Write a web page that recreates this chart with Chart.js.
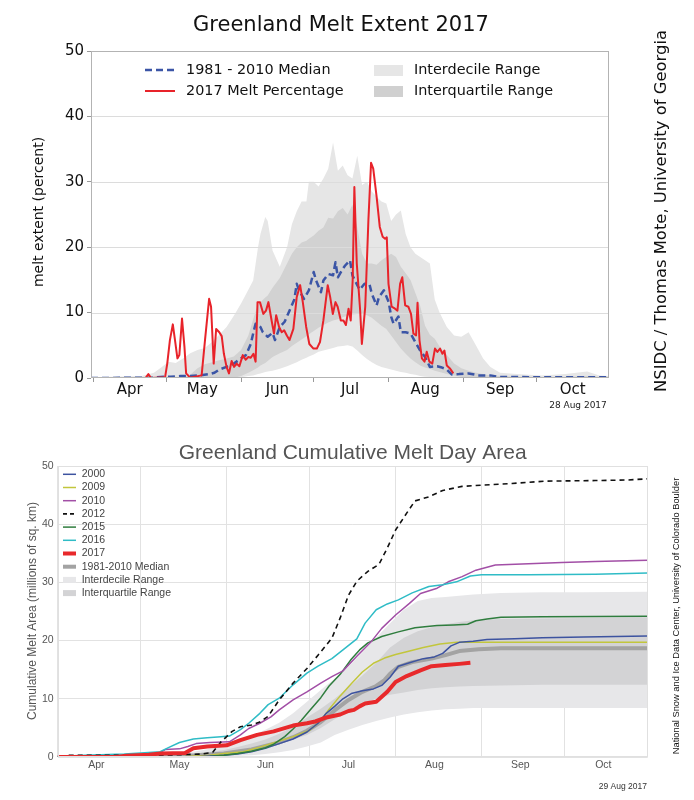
<!DOCTYPE html>
<html><head><meta charset="utf-8">
<script src="https://cdn.jsdelivr.net/npm/chart.js@4.4.0/dist/chart.umd.min.js"></script>
<style>
html,body{margin:0;padding:0;background:#fff;}
#wrap{position:relative;width:694px;height:800px;overflow:hidden;}
#c1{position:absolute;left:0;top:0;}
#c2{position:absolute;left:0;top:420px;}
</style></head><body>
<div id="wrap"><canvas id="c1" width="694" height="420"></canvas><canvas id="c2" width="694" height="380"></canvas></div>
<script>
// ---------- common: days counted from 1 April ----------
const months = ['Apr','May','Jun','Jul','Aug','Sep','Oct'];
const monthStartDays = [0,30,61,91,122,153,183];

// ---------- TOP: daily melt extent (percent) ----------
const bandDays = [-1,20,25,28,31,34,37,40,43,46,49,52,55,58,61,64,66,68,69,71,72,74,77,80,82,84,86,88,89,91,93,95,97,99,101,103,105,107,109,111,113,115,117,119,121,123,125,127,129,131,133,135,137,139,141,143,146,149,152,155,158,161,164,168,175,185,195,204,209,213];
const decileHigh = [0.1,0.3,0.8,1.6,2.5,2.3,3.0,3.8,4.3,4.6,
 5.5,6.6,7.8,9.5,11.4,13.5,14.9,20,22,24.6,
 24,19.5,17,20,23.5,25.5,27,27,30,30,
 29.3,30.5,32,36,31.7,32.5,31,30.5,34,29.5,
 30,28.5,27.7,27,26.7,24,25,25.6,22,20,
 19,18.5,18,17.5,12,10,7.8,6.5,6.3,7.0,
 5,3,1.7,0.8,0.6,0.4,0.6,1.0,0.4,0.3];
const decileLow = [0,0,0,0,0,0,0,0,0,0,
 0,0,0,0,0.1,0.3,0.4,0.6,0.7,0.9,
 1.0,1.1,1.4,1.8,2.1,2.4,2.8,3.1,3.3,3.6,
 4.0,4.2,4.4,4.6,4.8,4.9,5.0,4.8,4.2,3.5,
 2.9,2.4,2.0,1.7,1.5,1.3,1.1,0.9,0.8,0.6,
 0.5,0.3,0.2,0.15,0,0,0,0,0,0,
 0,0,0,0,0,0,0,0,0,0];
const quartileHigh = [0,0,0,0,0,0,0,0.5,1.5,2.1,
 2.4,2.7,3.0,3.3,4.3,6.5,9,11.2,11.6,12.3,
 12.6,13.8,15.3,17.5,19,20,20.7,21,21.3,21.8,
 22.5,23,24.5,24.4,25.5,26,25,26.5,23,19,
 17.5,17.5,17.3,18,18.5,19,18.5,17,16,15,
 13,11,8,6.6,6,4.8,3.5,2.2,1.5,1.1,
 0.8,0.6,0.4,0.3,0.2,0.15,0.15,0.3,0.15,0.1];
const quartileLow = [0,0,0,0,0,0,0,0,0,0,
 0,0,0,0,0.3,0.8,1.2,1.6,1.9,2.3,
 2.6,3.2,3.8,4.3,4.9,5.4,5.9,6.4,6.7,7.2,
 7.7,8.1,8.5,8.8,9.0,9.3,9.5,9.7,9.8,9.9,
 9.6,9.2,8.6,8.0,7.5,6.5,5.5,4.5,3.7,3.0,
 2.4,1.9,1.6,1.4,1.1,0.9,0.6,0.4,0.2,0.1,
 0,0,0,0,0,0,0,0,0,0];
const medDays = [-1,25,29,32,36,40,44,48,50,52,55,58,61,63,65,66,67,69,70,72,74,75,77,79,81,83,84,85,87,89,91,92,94,95,97,99,100,101,103,104,106,107,109,110,112,114,115,117,118,120,122,123,124,126,127,129,131,133,135,137,139,142,144,146,148,151,155,159,164,168,175,190,212];
const medVals = [0,0.05,0.2,0.2,0.3,0.3,0.4,0.6,0.8,1.3,1.7,2.2,3.0,3.5,5.2,6.8,8.3,7.8,7.0,6.3,6.9,5.8,7.8,8.6,10.3,12.0,14.4,13.4,12.1,13.4,16.2,14.9,13.1,14.9,15.9,15.7,17.7,15.4,16.7,17.2,18.0,15.7,14.2,13.5,14.4,14.4,12.9,11.1,12.4,13.4,11.6,9.4,8.3,9.4,7.0,7.0,6.8,5.5,4.2,3.2,1.7,1.8,1.6,1.3,0.55,0.6,0.7,0.4,0.4,0.15,0.15,0.1,0.1];
const melt2017Days = [-1,21.5,22.7,23.8,29.6,30.5,31.6,32.8,33.7,34.7,35.5,36.6,37.6,38.3,40,44.7,46.1,47.8,48.6,49.7,50.7,52,53,53.9,55,56,57.1,58.1,59.2,60.3,61.7,62.9,64,65,66.1,67,67.8,68.8,70.2,71.3,72.3,73.7,74.6,75.5,76.7,77.8,78.8,79.9,81,82.6,84,85.4,86.5,87.9,89.2,90.9,92.3,93.6,95,96.8,97.8,98.9,100,100.9,102.2,103.3,104.3,105.4,106.3,107.1,107.8,108.8,110.2,110.9,112.3,113.6,114.7,115.6,117,118.3,119.5,120.5,121.2,121.9,123.2,124.6,125.6,126.7,127.6,128.8,130.1,131.2,132.2,133.3,133.9,134.7,135.7,136.8,137.7,138.8,140,141.1,142.1,143.2,144.2,145,146,147.4,148.7];
const melt2017Vals = [0,0,0.6,0,0.1,2.2,5.8,8.2,5.8,3.0,3.5,9.1,4.8,0.7,0.05,0.4,5.8,12.1,10.9,2.2,7.5,7.0,6.4,3.7,1.7,0.7,2.6,1.7,2.2,1.8,3.5,2.8,3.2,3.1,3.7,2.5,11.6,11.6,9.8,10.3,11.6,8.6,6.8,9.6,7.8,7.0,7.3,6.5,5.8,7.5,12.4,14.2,11.6,7.8,5.2,4.5,4.5,5.5,8.8,14.2,12.4,9.8,11.6,10.9,8.8,8.8,8.1,10.6,8.8,14.9,29.2,17.5,10.3,5.2,10.9,24.1,32.9,32.0,27.7,23.1,21.6,21.3,21.5,14.4,10.9,10.6,10.3,14.4,15.4,11.1,10.9,9.8,6.8,6.5,11.5,5.8,3.0,2.5,4.0,2.5,2.2,4.5,4.0,4.5,3.7,4.2,1.9,1.4,0.7];
const topYTicks = [0,10,20,30,40,50];

// ---------- BOTTOM: cumulative melt day area (millions of sq. km) ----------
const cumBandDays = [0,30,40,50,55,60,65,70,75,80,85,90,95,100,105,110,115,120,125,130,135,140,145,150,160,175,190,213];
const cumDecileHigh = [0.1,0.3,0.5,1.0,1.4,1.9,2.8,3.7,4.7,5.9,7.5,9.5,11.5,13.5,15.5,18.0,20.5,23.0,25.3,26.8,27.3,27.5,27.7,27.9,28.2,28.3,28.3,28.4];
const cumDecileLow = [0,0,0,0,0.05,0.1,0.2,0.3,0.5,0.8,1.2,1.8,2.5,3.8,4.7,5.5,6.2,6.8,7.3,7.7,8.0,8.2,8.3,8.4,8.4,8.4,8.4,8.4];
const cumQuartHigh = [0,0.1,0.3,0.6,0.9,1.2,1.7,2.3,3.0,4.0,5.2,6.8,8.3,10.0,12.0,14.0,16.2,18.8,20.5,21.6,22.3,22.8,23.2,23.5,23.7,23.8,23.9,24.0];
const cumQuartLow = [0,0,0.1,0.2,0.3,0.5,0.8,1.2,1.7,2.3,3.0,3.8,5.0,6.5,8.0,9.2,10.0,10.7,11.1,11.5,11.8,12.0,12.1,12.2,12.3,12.4,12.4,12.4];
const cumMedDays = [0,30,40,50,60,70,80,85,90,95,100,105,110,115,118,120,123,128,135,140,145,152,160,213];
const cumMedVals = [0,0.05,0.15,0.3,0.6,1.3,2.5,3.4,4.5,6.0,8.0,9.8,11.2,12.2,13.2,14.3,15.5,16.3,16.9,17.5,18.2,18.5,18.7,18.7];
const y2000Days = [0,50,60,65,70,75,80,85,90,94,97,100,103,106,110,114,117,120,123,127,132,136,139,142,145,150,155,165,175,190,213];
const y2000Vals = [0,0.05,0.3,0.5,0.9,1.5,2.3,3.1,4.3,5.8,7.5,8.7,10.0,10.9,11.4,11.7,12.3,13.7,15.6,16.2,16.9,17.2,17.8,19.1,19.7,19.9,20.2,20.3,20.5,20.6,20.8];
const y2009Days = [0,45,55,60,67,73,79,85,91,95,98,102,106,110,114,118,122,126,132,138,144,213];
const y2009Vals = [0,0.05,0.3,0.6,0.9,1.7,2.6,3.5,4.6,6.3,8.2,10.5,12.6,14.6,16.1,17.0,17.6,18.1,18.8,19.4,19.7,19.7];
const y2010Days = [0,20,30,36,39,44,47,50,55,62,66,69,73,77,80,85,90,95,99,103,108,113,117,122,127,131,137,141,146,151,158,170,182,194,213];
const y2010Vals = [0,0.2,0.3,0.5,1.3,1.4,1.8,2.3,2.5,2.6,3.8,4.9,5.8,6.9,8.1,9.8,11.2,12.7,13.8,14.8,17.3,19.7,22.1,24.4,26.4,28.1,29.0,30.1,31.0,32.1,33.0,33.2,33.4,33.6,33.8];
const y2012Days = [4,20,35,45,52,56,59,63,66,70,73,76,80,85,90,94,99,102,105,108,112,116,119,122,126,129,134,139,146,153,164,176,194,206,213];
const y2012Vals = [0.3,0.3,0.3,0.4,0.5,0.8,2.6,4.4,5.2,5.5,6.0,7.0,9.8,12.7,15.2,17.5,20.4,23.9,27.8,30.2,31.9,33.1,35.9,39,41.9,44.0,44.7,45.8,46.5,46.7,47.0,47.4,47.5,47.6,47.8];
const y2015Days = [0,50,55,60,65,70,75,78,82,85,88,91,95,98,102,106,109,112,117,123,129,137,143,148,151,155,160,175,213];
const y2015Vals = [0,0.05,0.1,0.3,0.6,1.0,1.6,2.2,3.5,4.8,6.3,8.0,10.2,12.2,14.2,16.8,18.4,19.6,20.7,21.5,22.2,22.6,22.7,22.8,23.4,23.7,24.0,24.1,24.2];
const y2016Days = [0,10,24,30,37,40,44,49,54,59,62,66,69,73,76,80,85,90,94,99,103,108,111,115,119,123,128,134,139,144,149,153,170,194,213];
const y2016Vals = [0.1,0.3,0.5,0.7,0.9,1.6,2.5,3.1,3.3,3.5,3.6,4.7,5.8,7.5,9.0,10.1,12.4,14.4,15.6,16.9,18.4,20.3,23.0,25.3,26.3,27.0,28.2,29.3,29.6,30.1,31.1,31.3,31.3,31.4,31.6];
const y2017Days = [0,21,25,33,37,46,49,54,61,66,72,78,85,90,93,97,102,105,107,109,111,115,119,122,126,131,135,140,145,149];
const y2017Vals = [0,0,0.2,0.4,0.6,0.7,1.5,1.8,2.0,2.9,3.8,4.4,5.4,5.8,6.1,6.8,7.3,7.9,8.1,8.7,9.2,9.5,11.2,12.9,13.9,14.9,15.6,15.8,16.0,16.2];

// ---------- helpers ----------
const pts = (xs, ys) => xs.map((x, i) => ({x: x, y: ys[i]}));
function monthAxisTicks(offset){
  return function(scale){
    const vals = monthStartDays.concat(monthStartDays.map(d => d + offset)).sort((a,b)=>a-b);
    scale.ticks = vals.map(v => ({value: v}));
  };
}
function monthLabel(offset){
  return function(value){ const i = monthStartDays.indexOf(value - offset); return i >= 0 ? months[i] : ''; };
}
const isStart = ctx => !!(ctx.tick && monthStartDays.indexOf(ctx.tick.value) >= 0);
const CLEAR = 'rgba(0,0,0,0)';
function txt(c, s, x, y, font, color, align, rot){
  c.save(); c.translate(x, y); if (rot) c.rotate(rot);
  c.font = font; c.fillStyle = color; c.textAlign = align || 'center'; c.textBaseline = 'middle';
  c.fillText(s, 0, 0); c.restore();
}
function frame(c, a, color){
  c.save(); c.strokeStyle = color; c.lineWidth = 1;
  const l = Math.round(a.left) + 0.5, t = Math.round(a.top) + 0.5, r = Math.round(a.right) - 0.5, b = Math.round(a.bottom) - 0.5;
  c.strokeRect(l, t, r - l, b - t); c.restore();
}
const band = (label, data, fill, bg) => ({label, data, fill, backgroundColor: bg || CLEAR, borderColor: CLEAR, borderWidth: 0, pointRadius: 0});
const line = (label, data, color, width, dash) => ({label, data, borderColor: color, borderWidth: width, borderDash: dash || [], pointRadius: 0, fill: false, borderJoinStyle: 'round'});

// ---------- TOP chart ----------
const DJ = 'DejaVu Sans';
const topDecor = {
  id: 'topDecor',
  // horizontal grid lines sit above the shaded ranges but below the lines
  beforeDatasetDraw(chart, args){
    if (args.index !== 1) return;
    const c = chart.ctx, a = chart.chartArea, y = chart.scales.y;
    c.save(); c.strokeStyle = '#dcdcdc'; c.lineWidth = 1;
    topYTicks.filter(v => v > 0 && v < 50).forEach(v => {
      const py = Math.round(y.getPixelForValue(v)) + 0.5;
      c.beginPath(); c.moveTo(a.left, py); c.lineTo(a.right, py); c.stroke();
    });
    c.restore();
  },
  afterDraw(chart){
    const c = chart.ctx, a = chart.chartArea;
    frame(c, a, '#b3b3b3');
    txt(c, 'Greenland Melt Extent 2017', 341, 26, '21px "DejaVu Sans"', '#111');
    txt(c, 'melt extent (percent)', 39, 212, '14px "DejaVu Sans"', '#111', 'center', -Math.PI/2);
    txt(c, 'NSIDC / Thomas Mote, University of Georgia', 662, 211, '16.4px "DejaVu Sans"', '#111', 'center', -Math.PI/2);
    txt(c, '28 Aug 2017', 578, 406, '9px "DejaVu Sans"', '#222');
    // legend
    c.save();
    c.lineWidth = 2.5; c.strokeStyle = '#3b55a6'; c.setLineDash([7,4]);
    c.beginPath(); c.moveTo(145, 70); c.lineTo(175, 70); c.stroke();
    c.setLineDash([]); c.lineWidth = 2; c.strokeStyle = '#e8232a';
    c.beginPath(); c.moveTo(145, 91); c.lineTo(175, 91); c.stroke();
    c.fillStyle = '#e6e6e6'; c.fillRect(374, 65, 29, 11);
    c.fillStyle = '#d0d0d0'; c.fillRect(374, 86, 29, 11);
    c.restore();
    txt(c, '1981 - 2010 Median', 186, 70, '14.4px "DejaVu Sans"', '#111', 'left');
    txt(c, '2017 Melt Percentage', 186, 91, '14.4px "DejaVu Sans"', '#111', 'left');
    txt(c, 'Interdecile Range', 414, 70, '14.4px "DejaVu Sans"', '#111', 'left');
    txt(c, 'Interquartile Range', 414, 91, '14.4px "DejaVu Sans"', '#111', 'left');
  }
};
new Chart(document.getElementById('c1'), {
  type: 'line',
  data: { datasets: [
    line('2017 Melt Percentage', pts(melt2017Days, melt2017Vals), '#e8232a', 2),
    line('1981 - 2010 Median', pts(medDays, medVals), '#3b55a6', 2.5, [7,4]),
    band('Interquartile Range', pts(bandDays, quartileHigh), '+1', '#d2d2d2'),
    band('Interquartile low', pts(bandDays, quartileLow), false),
    band('Interdecile Range', pts(bandDays, decileHigh), '+1', '#e6e6e6'),
    band('Interdecile low', pts(bandDays, decileLow), false)
  ]},
  options: {
    responsive: false, animation: false, devicePixelRatio: 1,
    layout: {padding: {left: 0, top: 51, right: 85, bottom: 0}},
    elements: {line: {tension: 0}},
    plugins: {legend: {display: false}, tooltip: {enabled: false}, title: {display: false}},
    scales: {
      x: {type: 'linear', min: -1, max: 213,
        afterBuildTicks: monthAxisTicks(15), afterFit: s => { s.height = 42; },
        ticks: {autoSkip: false, maxRotation: 0, callback: monthLabel(15), font: {family: DJ, size: 15}, color: '#111', padding: -1},
        grid: {drawOnChartArea: false, drawTicks: true, tickLength: 4, tickColor: ctx => isStart(ctx) ? '#999' : CLEAR},
        border: {display: false}},
      y: {min: 0, max: 50, afterFit: s => { s.width = 91; },
        afterBuildTicks: s => { s.ticks = topYTicks.map(v => ({value: v})); },
        ticks: {font: {family: DJ, size: 15}, color: '#111', padding: 3},
        grid: {color: CLEAR, tickLength: 4, tickColor: '#999'},
        border: {display: false}}
    }
  },
  plugins: [topDecor]
});

// ---------- BOTTOM chart ----------
const LS = 'Liberation Sans';
const legendItems = [
  ['2000', 'line', '#3d53a0', 1.5], ['2009', 'line', '#c2c63c', 1.5], ['2010', 'line', '#a24fa6', 1.5],
  ['2012', 'dash', '#111111', 1.6], ['2015', 'line', '#2f7d3e', 1.5], ['2016', 'line', '#2fbcc6', 1.5],
  ['2017', 'line', '#e8292b', 4], ['1981-2010 Median', 'line', '#a3a3a3', 4],
  ['Interdecile Range', 'rect', '#e7e7e9'], ['Interquartile Range', 'rect', '#d3d3d5']
];
const botDecor = {
  id: 'botDecor',
  afterDraw(chart){
    const c = chart.ctx, a = chart.chartArea;
    frame(c, a, '#e0e0e0');
    txt(c, 'Greenland Cumulative Melt Day Area', (a.left + a.right) / 2, 33, '21px "Liberation Sans"', '#555');
    txt(c, 'Cumulative Melt Area (millions of sq. km)', 33, 191, '12px "Liberation Sans"', '#555', 'center', -Math.PI/2);
    txt(c, 'National Snow and Ice Data Center, University of Colorado Boulder', 676, 196, '9.3px "Liberation Sans"', '#111', 'center', -Math.PI/2);
    txt(c, '29 Aug 2017', 647, 367, '8.5px "Liberation Sans"', '#333', 'right');
    legendItems.forEach((it, i) => {
      const y = 54.3 + 13.2 * i;
      c.save();
      if (it[1] === 'rect') { c.fillStyle = it[2]; c.fillRect(63, y - 3, 13, 6); }
      else {
        c.strokeStyle = it[2]; c.lineWidth = it[3];
        c.setLineDash(it[1] === 'dash' ? [4, 3] : []);
        c.beginPath(); c.moveTo(63, y); c.lineTo(76, y); c.stroke();
      }
      c.restore();
      txt(c, it[0], 81.7, y, '10.5px "Liberation Sans"', '#444', 'left');
    });
  }
};
new Chart(document.getElementById('c2'), {
  type: 'line',
  data: { datasets: [
    line('2017', pts(y2017Days, y2017Vals), '#e8292b', 4),
    line('2012', pts(y2012Days, y2012Vals), '#111111', 1.6, [5,4]),
    line('2016', pts(y2016Days, y2016Vals), '#2fbcc6', 1.5),
    line('2010', pts(y2010Days, y2010Vals), '#a24fa6', 1.5),
    line('2015', pts(y2015Days, y2015Vals), '#2f7d3e', 1.5),
    line('2000', pts(y2000Days, y2000Vals), '#3d53a0', 1.5),
    line('2009', pts(y2009Days, y2009Vals), '#c2c63c', 1.5),
    line('1981-2010 Median', pts(cumMedDays, cumMedVals), '#a3a3a3', 4),
    band('Interquartile Range', pts(cumBandDays, cumQuartHigh), '+1', '#d3d3d5'),
    band('Interquartile low', pts(cumBandDays, cumQuartLow), false),
    band('Interdecile Range', pts(cumBandDays, cumDecileHigh), '+1', '#e7e7e9'),
    band('Interdecile low', pts(cumBandDays, cumDecileLow), false)
  ]},
  options: {
    responsive: false, animation: false, devicePixelRatio: 1,
    layout: {padding: {left: 0, top: 46, right: 46.3, bottom: 0}},
    elements: {line: {tension: 0}},
    plugins: {legend: {display: false}, tooltip: {enabled: false}, title: {display: false}},
    scales: {
      x: {type: 'linear', min: 0, max: 213,
        afterBuildTicks: monthAxisTicks(14), afterFit: s => { s.height = 43; },
        ticks: {autoSkip: false, maxRotation: 0, callback: monthLabel(14), font: {family: LS, size: 10.5}, color: '#555', padding: 2},
        grid: {drawTicks: false, color: ctx => isStart(ctx) ? '#e2e2e2' : CLEAR},
        border: {display: false}},
      y: {min: 0, max: 50, afterFit: s => { s.width = 57.6; },
        ticks: {stepSize: 10, font: {family: LS, size: 10.5}, color: '#555', padding: 4},
        grid: {drawTicks: false, color: '#e2e2e2'},
        border: {display: false}}
    }
  },
  plugins: [botDecor]
});
</script>
</body></html>
